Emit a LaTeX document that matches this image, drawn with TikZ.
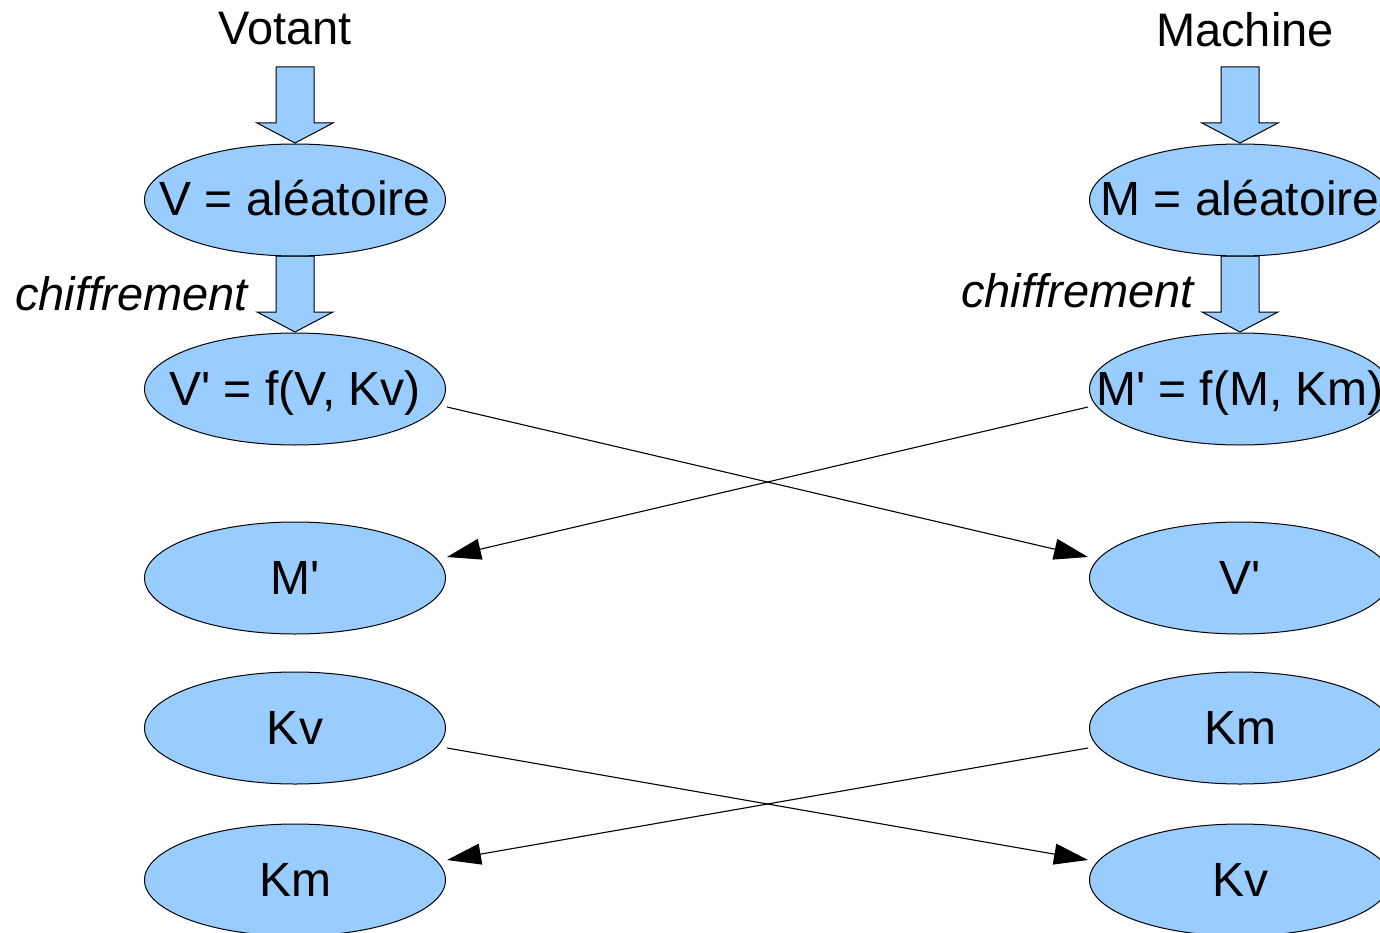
\documentclass[tikz,border=0pt]{standalone}
\usepackage{fontspec}
\setmainfont{Liberation Sans}
\usetikzlibrary{calc,arrows.meta,shapes.geometric}
\definecolor{ellfill}{HTML}{99CCFF}
\newcommand{\sq}{\textquotesingle}
\tikzset{
  ell/.style={ellipse, draw=black, line width=1pt, fill=ellfill,
    minimum width=301pt, minimum height=112pt, inner sep=0pt},
  etxt/.style={inner sep=0pt, text height=32pt, text depth=0pt,
    font=\fontsize{48}{52}\selectfont},
  head/.style={inner sep=0pt, anchor=base, font=\fontsize{47}{52}\selectfont},
  side/.style={inner sep=0pt, anchor=base east, font=\fontsize{47}{52}\selectfont\itshape},
  conn/.style={line width=1.1pt, -{Triangle[length=34pt,width=21pt]}},
  blk/.style={draw=black, line width=1pt, fill=ellfill, line join=miter}
}
% block arrow pointing down, tip at #1
\newcommand{\downblock}[1]{%
  \draw[blk] ($(#1)$) -- ++(38,-20) -- ++(-19,0) -- ++(0,-56) -- ++(-38,0)
    -- ++(0,56) -- ++(-19,0) -- cycle;}
\begin{document}
\begin{tikzpicture}[x=1pt,y=-1pt]
\useasboundingbox (0,0) rectangle (1380,933);
\clip (0,0) rectangle (1380,933);

% column titles
\node[head] (tv) at (285,45) {Votant};
\node[head] (tm) at (1245,47) {Machine};

% coordinates of the block arrow tips
\coordinate (av1) at (295,143);
\coordinate (av2) at (295,332);
\coordinate (am1) at (1240,143);
\coordinate (am2) at (1240,332);

\downblock{av1}
\downblock{av2}
\downblock{am1}
\downblock{am2}

% left column
\node[ell] (v0) at (295,200) {};
\node[etxt] at (v0) {V = aléatoire};
\node[ell] (v1) at (295,389) {};
\node[etxt] at (v1) {V\sq{} = f(V, Kv)};
\node[ell] (v2) at (295,578) {};
\node[etxt] at (v2) {M\sq};
\node[ell] (v3) at (295,728) {};
\node[etxt] at (v3) {Kv};
\node[ell] (v4) at (295,880) {};
\node[etxt] at (v4) {Km};

% right column
\node[ell] (m0) at (1240,200) {};
\node[etxt] at (m0) {M = aléatoire};
\node[ell] (m1) at (1240,389) {};
\node[etxt] at (m1) {M\sq{} = f(M, Km)};
\node[ell] (m2) at (1240,578) {};
\node[etxt] at (m2) {V\sq};
\node[ell] (m3) at (1240,728) {};
\node[etxt] at (m3) {Km};
\node[ell] (m4) at (1240,880) {};
\node[etxt] at (m4) {Kv};

% side labels
\node[side] (cv) at (248,310) {chiffrement};
\node[side] (cm) at (1194,307) {chiffrement};

% exchanges
\draw[conn] ($(v1.east)+(1,18)$) -- ($(m2.west)+(-1,-21)$);
\draw[conn] ($(m1.west)+(-1,18)$) -- ($(v2.east)+(1,-21)$);
\draw[conn] ($(v3.east)+(1,20)$) -- ($(m4.west)+(-1,-20)$);
\draw[conn] ($(m3.west)+(-1,20)$) -- ($(v4.east)+(1,-20)$);
\end{tikzpicture}
\end{document}
